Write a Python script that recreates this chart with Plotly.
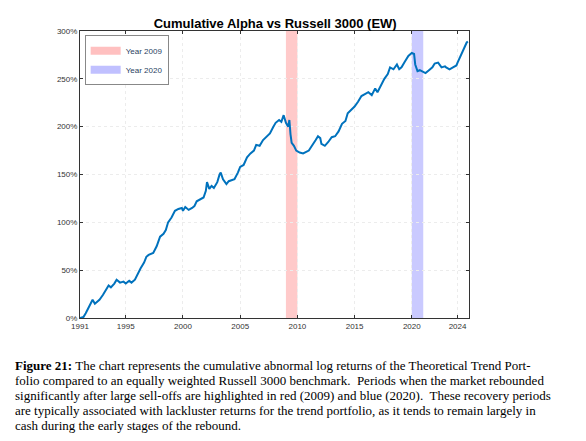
import plotly.graph_objects as go

years = [1991.0, 1991.3, 1991.5, 1991.8, 1992.0, 1992.1, 1992.3, 1992.7, 1993.0, 1993.3, 1993.5, 1993.7,
         1994.0, 1994.2, 1994.5, 1994.8, 1995.0, 1995.3, 1995.5, 1995.8, 1996.0, 1996.3, 1996.6, 1996.8,
         1997.0, 1997.4, 1997.7, 1998.0, 1998.3, 1998.5, 1998.7, 1999.0, 1999.3, 1999.6, 1999.9, 2000.0,
         2000.2, 2000.5, 2000.8, 2001.0, 2001.2, 2001.5, 2001.8, 2002.0, 2002.1, 2002.3, 2002.5, 2002.7,
         2003.0, 2003.2, 2003.3, 2003.5, 2003.8, 2004.0, 2004.5, 2004.8, 2005.0, 2005.3, 2005.6, 2005.9,
         2006.2, 2006.4, 2006.7, 2007.0, 2007.3, 2007.6, 2007.9, 2008.1, 2008.4, 2008.6, 2008.8, 2009.0,
         2009.2, 2009.3, 2009.4, 2009.5, 2009.7, 2009.9, 2010.2, 2010.5, 2011.0, 2011.3, 2011.6, 2011.8,
         2012.0, 2012.1, 2012.4, 2012.7, 2013.0, 2013.3, 2013.6, 2013.9, 2014.2, 2014.4, 2014.7, 2015.0,
         2015.3, 2015.6, 2015.9, 2016.2, 2016.5, 2016.8, 2017.0, 2017.3, 2017.6, 2017.9, 2018.1, 2018.4,
         2018.7, 2018.9, 2019.1, 2019.4, 2019.7, 2020.0, 2020.2, 2020.3, 2020.5, 2020.7, 2021.0, 2021.2,
         2021.5, 2021.8, 2022.0, 2022.3, 2022.6, 2022.9, 2023.0, 2023.3, 2023.6, 2023.9, 2024.0, 2024.3,
         2024.5, 2024.8, 2024.9]
alpha = [0, 1, 5, 12, 15, 19, 15, 19, 24, 30, 34, 32,
         36, 40, 37, 38, 36, 39, 37, 40, 45, 52, 58, 64,
         66, 68, 75, 85, 88, 92, 100, 105, 112, 114, 115, 112,
         116, 113, 115, 117, 122, 124, 126, 133, 142, 135, 138, 136,
         142, 150, 152, 145, 140, 143, 145, 152, 158, 160, 168, 172,
         175, 181, 180, 186, 190, 193, 200, 204, 207, 205, 212, 204,
         200, 207, 192, 183, 180, 175, 173, 172, 175, 180, 186, 190,
         188, 182, 180, 184, 189, 190, 195, 203, 206, 214, 217, 221,
         226, 232, 234, 236, 233, 240, 236, 243, 250, 255, 262, 260,
         265, 260, 262, 268, 274, 277, 276, 265, 258, 259, 257, 256,
         259, 262, 266, 267, 262, 263, 262, 260, 262, 264, 267, 275,
         280, 288, 289]

tick_years = [1991, 1995, 2000, 2005, 2010, 2015, 2020, 2024]
tick_pct = [0, 50, 100, 150, 200, 250, 300]

caption = [
    "<b>Figure 21:</b> The chart represents the cumulative abnormal log returns of the Theoretical Trend Port-",
    "folio compared to an equally weighted Russell 3000 benchmark.  Periods when the market rebounded",
    "significantly after large sell-offs are highlighted in red (2009) and blue (2020).  These recovery periods",
    "are typically associated with lackluster returns for the trend portfolio, as it tends to remain largely in",
    "cash during the early stages of the rebound.",
]

fig = go.Figure()

# shaded recovery periods (legend entries via dummy traces)
fig.add_vrect(x0=2009, x1=2010, fillcolor="rgba(255,150,150,0.5)", line_width=0, layer="below")
fig.add_vrect(x0=2020, x1=2021, fillcolor="rgba(150,150,255,0.5)", line_width=0, layer="below")
fig.add_trace(go.Scatter(x=[None], y=[None], mode="lines", name="Year 2009",
                         line=dict(color="rgba(255,150,150,0.6)", width=8)))
fig.add_trace(go.Scatter(x=[None], y=[None], mode="lines", name="Year 2020",
                         line=dict(color="rgba(150,150,255,0.6)", width=8)))

fig.add_trace(go.Scatter(x=years, y=alpha, mode="lines", showlegend=False,
                         line=dict(color="#0072BD", width=2)))

axis_common = dict(showline=True, linecolor="#333", mirror="ticks", ticks="inside", ticklen=3,
                   tickcolor="#333", showgrid=True, gridcolor="#ececec", griddash="dot",
                   zeroline=False, tickfont=dict(size=8, color="#333", family="Liberation Sans"))

fig.update_layout(
    width=586, height=441,
    margin=dict(l=72, r=125, t=23, b=131),
    plot_bgcolor="white", paper_bgcolor="white",
    title=dict(text="<b>Cumulative Alpha vs Russell 3000 (EW)</b>", x=0.456, xanchor="center",
               y=0.975, yanchor="top", font=dict(size=13, family="Liberation Sans", color="black")),
    xaxis=dict(range=[1991, 2025], tickvals=tick_years, **axis_common),
    yaxis=dict(range=[0, 300], tickvals=tick_pct, ticktext=[f"{v}%" for v in tick_pct], **axis_common),
    legend=dict(x=0.012, y=0.985, xanchor="left", yanchor="top", bgcolor="white",
                bordercolor="#888", borderwidth=1, font=dict(size=8, family="Liberation Sans"),
                tracegroupgap=0, itemwidth=30),
    showlegend=True,
)

for i, line in enumerate(caption):
    fig.add_annotation(text=line, xref="paper", yref="paper", x=-0.172, y=-0.165 - i * 0.0523,
                       xanchor="left", yanchor="middle", showarrow=False,
                       font=dict(size=13, family="Liberation Serif", color="black"))

fig.write_html("out.html")
